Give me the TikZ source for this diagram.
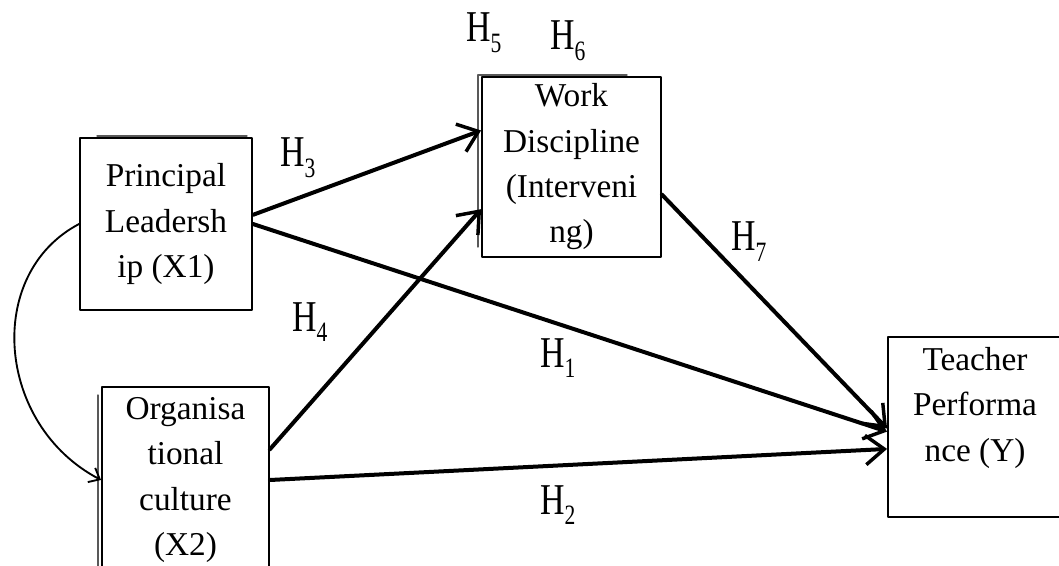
\documentclass[tikz,border=0pt]{standalone}
\usepackage{fontspec}
\setmainfont{Liberation Serif}
\usetikzlibrary{arrows.meta}

\newcommand{\hyp}[1]{H\raisebox{-8pt}{\fontsize{21}{21}\selectfont #1}}

\begin{document}
\begin{tikzpicture}[
						x=0.75pt, y=-0.75pt,
						box/.style={draw, line width=1.4pt, align=center, inner sep=0pt,
							font=\fontsize{25}{34}\selectfont},
						shadowline/.style={line width=1pt, gray!70!black},
						path/.style={line width=3pt, -{Straight Barb[length=14pt, width=22pt, line width=2.6pt]}},
						hyplabel/.style={anchor=base west, inner sep=0pt, xscale=0.77,
							font=\fontsize{33}{33}\selectfont},
						line cap=round,
						line join=round
						]
						
						\useasboundingbox (0,0) rectangle (1059,566);
						
						% shadow edges behind the boxes
						\draw[shadowline] (97,136) -- (247,136);
						\draw[shadowline] (478,247) -- (478,75) -- (627,75);
						\draw[shadowline] (98,395) -- (98,570);
						
						% variables
						\node[box, minimum width=129pt, minimum height=129pt] (pl) at (166,224)
						{Principal\\Leadersh\\ip (X1)};
						\node[box, minimum width=125.25pt, minimum height=139.5pt] (oc) at (185.5,480)
						{Organisa\\tional\\culture\\(X2)};
						\node[box, minimum width=134.25pt, minimum height=135pt, fill=white] (wd) at (571.5,167)
						{Work\\Discipline\\(Interveni\\ng)};
						\node[box, minimum width=130.5pt, minimum height=135pt] (tp) at (975,427)
						{Teacher\\Performa\\nce (Y)\\\mbox{}};
						
						% correlation between the two predictors
						\draw[line width=1.4pt, -{Straight Barb[length=7pt, width=12pt, line width=1.4pt]}]
						(pl.west) .. controls +(-95,50) and +(-105,-55) .. (oc.west);
						
						% hypothesised paths
						\draw[path] (pl.6) -- (wd.158);
						\draw[path] (pl.east) -- (tp.183);
						\draw[path] (oc.20) -- (wd.205);
						\draw[path] (oc.east) -- (tp.194);
						\draw[path] (wd.343) -- (tp.181);
						
						% hypothesis labels
						\node[hyplabel] (h1) at (540,367) {\hyp{1}};
						\node[hyplabel] (h2) at (540,514) {\hyp{2}};
						\node[hyplabel] (h3) at (280,167) {\hyp{3}};
						\node[hyplabel] (h4) at (292,331) {\hyp{4}};
						\node[hyplabel] (h5) at (466,42) {\hyp{5}};
						\node[hyplabel] (h6) at (550,50) {\hyp{6}};
						\node[hyplabel] (h7) at (731,251) {\hyp{7}};
						
					\end{tikzpicture}
\end{document}
